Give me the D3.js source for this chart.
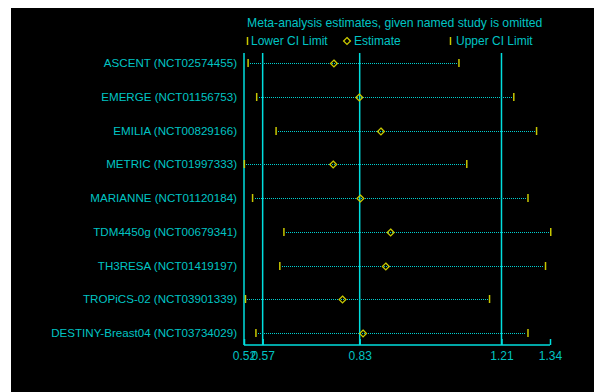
<!DOCTYPE html>
<html lang="en">
<head>
  <meta charset="UTF-8">
  <title>Meta-analysis estimates, given named study is omitted</title>
  <script src="https://d3js.org/d3.v7.min.js"></script>
  <style>
    body { margin: 0; background: #fff; font-family: "Liberation Sans", Arial, sans-serif; }
    svg text { fill: #00c4c4; font-size: 12px; }
  </style>
</head>
<body>
  <script>
    // Studies and leave-one-out estimates
    const studies = [
      "ASCENT (NCT02574455)",
      "EMERGE (NCT01156753)",
      "EMILIA (NCT00829166)",
      "METRIC (NCT01997333)",
      "MARIANNE (NCT01120184)",
      "TDM4450g (NCT00679341)",
      "TH3RESA (NCT01419197)",
      "TROPiCS-02 (NCT03901339)",
      "DESTINY-Breast04 (NCT03734029)"
    ];
    const lower = [0.531, 0.554, 0.606, 0.521, 0.543, 0.627, 0.616, 0.524, 0.552];
    const estimate = [0.761, 0.829, 0.887, 0.759, 0.832, 0.913, 0.900, 0.784, 0.839];
    const upper = [1.096, 1.243, 1.304, 1.117, 1.281, 1.342, 1.328, 1.178, 1.281];
    const tickValues = [0.52, 0.57, 0.83, 1.21, 1.34];
    const refLines = [0.52, 0.57, 0.83, 1.21];

    const W = 594, H = 392;
    const cyan = "#00dede", dotCyan = "#00d0d0", yellow = "#c8c800";

    const svg = d3.select("body").append("svg")
      .attr("width", W).attr("height", H);

    // black plot background
    svg.append("rect").attr("x", 11).attr("y", 8)
      .attr("width", W - 11).attr("height", H - 8).attr("fill", "#000");

    const x = d3.scaleLinear().domain([0.52, 1.34]).range([244, 550]);
    const y = d3.scalePoint().domain(studies).range([63, 333]);
    const yr = s => Math.round(y(s)); // pixel-snapped row position
    const axisY = 345;

    // title + legend
    svg.append("text").attr("x", 247).attr("y", 27)
      .style("font-size", "12.2px").text("Meta-analysis estimates, given named study is omitted");
    const legend = svg.append("g");
    legend.append("line").attr("x1", 247.5).attr("x2", 247.5).attr("y1", 37).attr("y2", 45)
      .attr("stroke", yellow).attr("stroke-width", 1.5);
    legend.append("text").attr("x", 251).attr("y", 45).text("Lower CI Limit");
    legend.append("path").attr("d", d3.symbol(d3.symbolDiamond2, 30)())
      .attr("transform", "translate(347,41)")
      .attr("fill", "none").attr("stroke", yellow).attr("stroke-width", 1.3);
    legend.append("text").attr("x", 354).attr("y", 45).text("Estimate");
    legend.append("line").attr("x1", 450.5).attr("x2", 450.5).attr("y1", 37).attr("y2", 45)
      .attr("stroke", yellow).attr("stroke-width", 1.5);
    legend.append("text").attr("x", 456).attr("y", 45).text("Upper CI Limit");

    // reference vertical lines
    svg.append("g").selectAll("line").data(refLines).join("line")
      .attr("x1", d => x(d)).attr("x2", d => x(d))
      .attr("y1", 53).attr("y2", axisY)
      .attr("stroke", cyan).attr("stroke-width", 1.5);

    // axis
    const axis = svg.append("g").attr("transform", `translate(0,${axisY})`)
      .call(d3.axisBottom(x).tickValues(tickValues).tickFormat(d3.format(".2f")).tickSize(6).tickSizeOuter(0));
    axis.select(".domain").remove();
    axis.append("line").attr("x1", x(0.52)).attr("x2", x(1.34)).attr("stroke", cyan).attr("stroke-width", 1.5);
    axis.selectAll(".tick line").attr("y1", -6).attr("y2", 0).attr("stroke", cyan).attr("stroke-width", 1.5);
    axis.selectAll(".tick text").attr("y", 4).attr("dy", "0.9em")
      .style("font-family", "inherit").style("font-size", "12px").attr("fill", "#00c4c4");

    // study labels
    svg.append("g").selectAll("text").data(studies).join("text")
      .attr("x", 237).attr("y", d => yr(d) + 4)
      .style("font-size", "11.6px")
      .attr("text-anchor", "end").text(d => d);

    const rows = studies.map((s, i) => ({ s, lo: lower[i], est: estimate[i], hi: upper[i] }));
    const g = svg.append("g");

    // dotted CI lines
    g.selectAll(".ci").data(rows).join("line")
      .attr("x1", d => Math.round(x(d.lo)) + 2).attr("x2", d => Math.round(x(d.hi)) - 2)
      .attr("y1", d => yr(d.s) + 0.5).attr("y2", d => yr(d.s) + 0.5)
      .attr("shape-rendering", "crispEdges")
      .attr("stroke", dotCyan).attr("stroke-width", 1).attr("stroke-dasharray", "1,1");

    // caps
    g.selectAll(".lo").data(rows).join("line")
      .attr("x1", d => x(d.lo)).attr("x2", d => x(d.lo))
      .attr("y1", d => yr(d.s) - 4).attr("y2", d => yr(d.s) + 4)
      .attr("stroke", yellow).attr("stroke-width", 1.5);
    g.selectAll(".hi").data(rows).join("line")
      .attr("x1", d => x(d.hi)).attr("x2", d => x(d.hi))
      .attr("y1", d => yr(d.s) - 4).attr("y2", d => yr(d.s) + 4)
      .attr("stroke", yellow).attr("stroke-width", 1.5);

    // estimates
    g.selectAll(".est").data(rows).join("path")
      .attr("d", d3.symbol(d3.symbolDiamond2, 30)())
      .attr("transform", d => `translate(${x(d.est)},${yr(d.s) + 0.5})`)
      .attr("fill", "none").attr("stroke", yellow).attr("stroke-width", 1.3);
  </script>
</body>
</html>
